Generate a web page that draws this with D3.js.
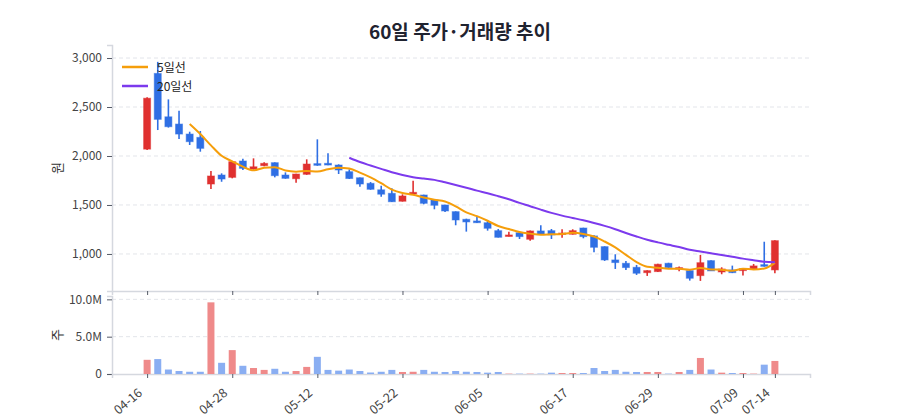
<!DOCTYPE html>
<html>
<head>
<meta charset="utf-8">
<script src="https://cdn.jsdelivr.net/npm/d3@7"></script>
<style>
  body { margin: 0; background: #fff; }
  svg { font-family: "Noto Sans CJK KR", "Noto Sans", sans-serif; }
</style>
</head>
<body>
<svg width="900" height="420"></svg>
<script>
let dates = [
  "04-16", "04-17", "04-18", "04-21", "04-22", "04-23", "04-24", "04-25", "04-28", "04-29",
  "04-30", "05-02", "05-06", "05-07", "05-08", "05-09", "05-12", "05-13", "05-14", "05-15",
  "05-16", "05-19", "05-20", "05-21", "05-22", "05-23", "05-26", "05-27", "05-28", "05-29",
  "06-02", "06-04", "06-05", "06-06", "06-09", "06-10", "06-11", "06-12", "06-13", "06-16",
  "06-17", "06-18", "06-19", "06-20", "06-23", "06-24", "06-25", "06-26", "06-29", "06-30",
  "07-01", "07-02", "07-03", "07-04", "07-07", "07-08", "07-09", "07-10", "07-11", "07-14"
]

let open = [
  2070, 2843, 2400, 2326, 2224, 2190, 1714, 1806, 1782, 1949,
  1867, 1901, 1932, 1806, 1768, 1813, 1922, 1925, 1908, 1840,
  1778, 1721, 1655, 1619, 1538, 1612, 1602, 1551, 1500, 1432,
  1354, 1337, 1319, 1238, 1180, 1217, 1150, 1235, 1238, 1201,
  1201, 1265, 1184, 1075, 939, 905, 864, 809, 820, 905,
  847, 830, 779, 932, 816, 837, 830, 844, 891, 837
]
let high = [
  2600, 2961, 2578, 2462, 2248, 2255, 1847, 1823, 1950, 1972,
  1976, 1936, 1935, 1833, 1820, 1966, 2170, 2027, 1915, 1864,
  1780, 1734, 1697, 1670, 1609, 1748, 1605, 1555, 1503, 1435,
  1360, 1388, 1347, 1255, 1227, 1220, 1240, 1293, 1255, 1252,
  1252, 1268, 1190, 1078, 997, 929, 888, 834, 900, 910,
  871, 835, 990, 935, 864, 881, 855, 898, 1125, 1140
]
let low = [
  2060, 2265, 2290, 2173, 2112, 2044, 1663, 1737, 1772, 1857,
  1860, 1895, 1782, 1768, 1727, 1808, 1900, 1905, 1816, 1765,
  1687, 1655, 1585, 1530, 1535, 1610, 1507, 1456, 1428, 1293,
  1228, 1317, 1238, 1168, 1178, 1153, 1136, 1195, 1153, 1166,
  1198, 1160, 1017, 929, 847, 837, 786, 776, 815, 858,
  823, 728, 725, 825, 793, 805, 779, 840, 870, 803
]
let close = [
  2590, 2374, 2299, 2224, 2146, 2078, 1796, 1765, 1942, 1874,
  1890, 1925, 1799, 1772, 1816, 1918, 1905, 1908, 1857, 1770,
  1714, 1660, 1610, 1533, 1592, 1629, 1517, 1497, 1439, 1347,
  1327, 1319, 1262, 1170, 1194, 1177, 1235, 1201, 1194, 1214,
  1238, 1177, 1068, 939, 912, 861, 803, 830, 895, 861,
  861, 752, 911, 827, 847, 809, 850, 878, 874, 1136
]
// volume in millions of shares
let volume = [
  1.9, 2.0, 0.6, 0.4, 0.3, 0.3, 9.6, 1.5, 3.2, 1.1,
  0.8, 0.55, 0.7, 0.3, 0.4, 0.95, 2.3, 0.55, 0.45, 0.6,
  0.4, 0.2, 0.3, 0.55, 0.27, 0.3, 0.55, 0.3, 0.27, 0.4,
  0.3, 0.27, 0.18, 0.27, 0.05, 0.05, 0.05, 0.05, 0.18, 0.13,
  0.13, 0.13, 0.8, 0.4, 0.55, 0.3, 0.27, 0.27, 0.27, 0.05,
  0.27, 0.55, 2.15, 0.6, 0.18, 0.13, 0.13, 0.05, 1.25, 1.75
]

let priceTicks = [1000, 1500, 2000, 2500, 3000]
let volumeTicks = [0, 5, 10]
let tickIdx = [0, 8, 16, 24, 32, 40, 48, 56, 59]
let maSpecs = [
  { n: 5, label: "5일선", color: "#f59e0b" },
  { n: 20, label: "20일선", color: "#7c3aed" }
]

let upColor = "#e0302f"
let downColor = "#2f6fe4"
let upVol = "#ef8a8a"
let downVol = "#8aaef2"

let left = 112
let right = 810
let priceTop = 45
let priceBottom = 291
let volTop = 296
let volBottom = 374

let svg = d3.select("svg")

let xScale = d3.scalePoint()
  .domain(d3.range(dates.length))
  .range([left, right])
  .padding(3.3)

let yScale = d3.scaleLinear()
  .domain([622, 3133])
  .range([priceBottom, priceTop])

let vScale = d3.scaleLinear()
  .domain([0, 10.45])
  .range([volBottom, volTop])

// title
svg.append("text")
  .attr("x", 460)
  .attr("y", 39)
  .attr("text-anchor", "middle")
  .style("font-size", "19px")
  .style("font-weight", "bold")
  .style("fill", "#1f2330")
  .text("60일 주가·거래량 추이")

// grid lines
svg.append("g")
  .selectAll("line")
  .data(priceTicks)
  .enter()
  .append("line")
  .attr("x1", left)
  .attr("x2", right)
  .attr("y1", (d) => yScale(d))
  .attr("y2", (d) => yScale(d))
  .attr("stroke", "#e3e5ea")
  .attr("stroke-dasharray", "4,3")

svg.append("g")
  .selectAll("line")
  .data(volumeTicks.filter((d) => d > 0))
  .enter()
  .append("line")
  .attr("x1", left)
  .attr("x2", right)
  .attr("y1", (d) => vScale(d))
  .attr("y2", (d) => vScale(d))
  .attr("stroke", "#e3e5ea")
  .attr("stroke-dasharray", "4,3")

// axes
let styleAxis = (g) => {
  g.select(".domain").attr("stroke", "#d5d8df").attr("stroke-width", 1.5)
  g.selectAll(".tick line").attr("stroke", "#555a66")
  g.selectAll(".tick text").style("font-size", "12px").style("fill", "#444").style("font-family", '"Noto Sans CJK KR", "Noto Sans", sans-serif')
}

let yAxis = d3.axisLeft(yScale)
  .tickValues(priceTicks)
  .tickFormat(d3.format(","))
  .tickSize(5)
  .tickPadding(5)
svg.append("g")
  .attr("transform", "translate(" + left + ",0)")
  .call(yAxis)
  .call(styleAxis)

let vAxis = d3.axisLeft(vScale)
  .tickValues(volumeTicks)
  .tickFormat((d) => d === 0 ? "0" : d.toFixed(1) + "M")
  .tickSize(5)
  .tickPadding(5)
svg.append("g")
  .attr("transform", "translate(" + left + ",0)")
  .call(vAxis)
  .call(styleAxis)

let xAxisTop = d3.axisBottom(xScale)
  .tickValues(tickIdx)
  .tickFormat("")
  .tickSize(4)
svg.append("g")
  .attr("transform", "translate(0," + priceBottom + ")")
  .call(xAxisTop)
  .call(styleAxis)

let xAxis = d3.axisBottom(xScale)
  .tickValues(tickIdx)
  .tickFormat((i) => dates[i])
  .tickSize(4)
svg.append("g")
  .attr("transform", "translate(0," + volBottom + ")")
  .call(xAxis)
  .call(styleAxis)
  .selectAll(".tick text")
  .attr("text-anchor", "end")
  .attr("dy", "0")
  .style("font-size", "12.5px")
  .attr("transform", "translate(-9,15) rotate(-40)")

// axis titles
svg.append("text")
  .attr("transform", "translate(62," + ((priceTop + priceBottom) / 2) + ") rotate(-90)")
  .attr("text-anchor", "middle")
  .style("font-size", "13px")
  .style("fill", "#333")
  .text("원")

svg.append("text")
  .attr("transform", "translate(62," + ((volTop + volBottom) / 2) + ") rotate(-90)")
  .attr("text-anchor", "middle")
  .style("font-size", "13px")
  .style("fill", "#333")
  .text("주")

// volume bars
svg.append("g")
  .selectAll("rect")
  .data(d3.range(dates.length))
  .enter()
  .append("rect")
  .attr("x", (i) => xScale(i) - 3.5)
  .attr("width", 7)
  .attr("y", (i) => vScale(volume[i]))
  .attr("height", (i) => vScale(0) - vScale(volume[i]))
  .attr("fill", (i) => close[i] >= open[i] ? upVol : downVol)

// candles
let candles = svg.append("g")
  .selectAll("g")
  .data(d3.range(dates.length))
  .enter()
  .append("g")

candles.append("line")
  .attr("x1", (i) => xScale(i))
  .attr("x2", (i) => xScale(i))
  .attr("y1", (i) => yScale(high[i]))
  .attr("y2", (i) => yScale(low[i]))
  .attr("stroke", (i) => close[i] >= open[i] ? upColor : downColor)
  .attr("stroke-width", 1.6)

candles.append("rect")
  .attr("x", (i) => xScale(i) - 3.5)
  .attr("width", 7)
  .attr("y", (i) => yScale(Math.max(open[i], close[i])))
  .attr("height", (i) => Math.max(1.5, Math.abs(yScale(open[i]) - yScale(close[i]))))
  .attr("fill", (i) => close[i] >= open[i] ? upColor : downColor)
  .attr("stroke", (i) => close[i] >= open[i] ? upColor : downColor)
  .attr("stroke-opacity", 0.5)
  .attr("stroke-width", 1)

// moving averages
let line = d3.line()
  .x((d) => xScale(d.i))
  .y((d) => yScale(d.v))
  .curve(d3.curveMonotoneX)

maSpecs.forEach((spec) => {
  let pts = d3.range(spec.n - 1, dates.length).map((i) => {
    return { i: i, v: d3.mean(close.slice(i - spec.n + 1, i + 1)) }
  })
  svg.append("path")
    .datum(pts)
    .attr("d", line)
    .attr("fill", "none")
    .attr("stroke", spec.color)
    .attr("stroke-width", 2)
})

// legend
let legend = svg.append("g")
  .attr("transform", "translate(122,67)")

maSpecs.forEach((spec, k) => {
  legend.append("line")
    .attr("x1", 0)
    .attr("x2", 26)
    .attr("y1", k * 19)
    .attr("y2", k * 19)
    .attr("stroke", spec.color)
    .attr("stroke-width", 2.5)
  legend.append("text")
    .attr("x", 35)
    .attr("y", k * 19 + 4.5)
    .style("font-size", "12px")
    .style("fill", "#222")
    .text(spec.label)
})
</script>
</body>
</html>
